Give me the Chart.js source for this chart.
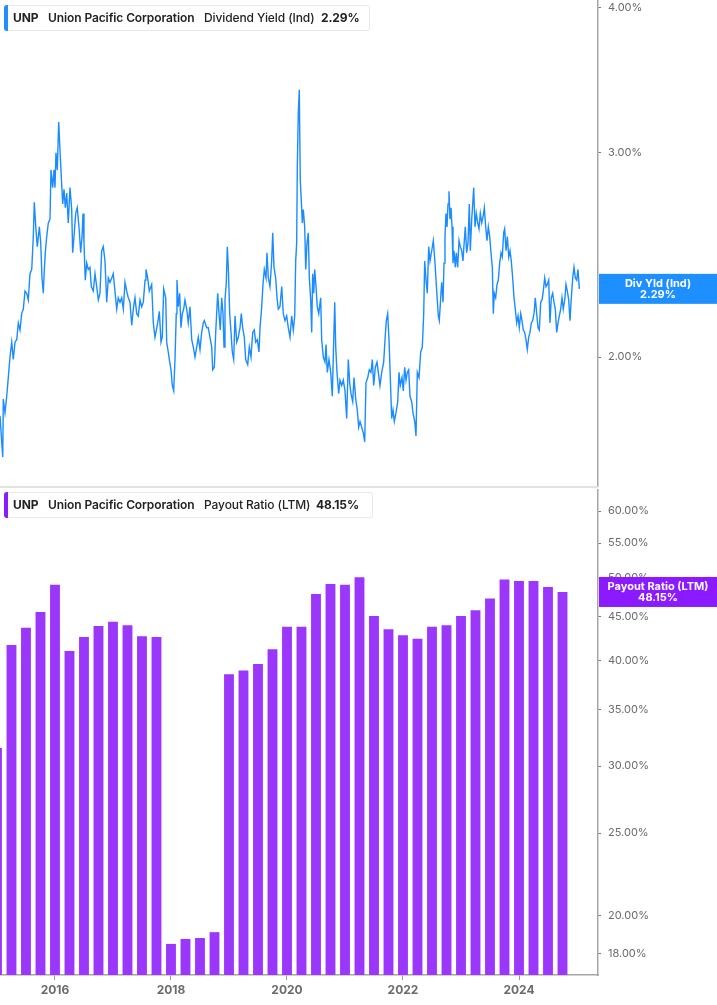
<!DOCTYPE html>
<html>
<head>
<meta charset="utf-8">
<title>UNP - Dividend Yield and Payout Ratio</title>
<script src="https://cdn.jsdelivr.net/npm/chart.js@4.4.1/dist/chart.umd.min.js"></script>
<style>
  html, body { margin: 0; padding: 0; background: #fff; }
  body { width: 717px; height: 1005px; position: relative; overflow: hidden; font-family: Inter, 'Noto Sans', sans-serif; }
  .panel { position: absolute; left: 0; width: 717px; }
  #topPanel { top: 0; height: 487px; }
  #bottomPanel { top: 489px; height: 516px; }
  .divider { position: absolute; left: 0; top: 486px; width: 598px; height: 2px; background: #e2e2e2; }
  .legend { position: absolute; left: 4px; height: 26px; background: #fff; border: 1px solid #e8e8e8; border-radius: 3px; box-sizing: border-box; font-size: 12px; color: #222; white-space: nowrap; letter-spacing: -0.1px; }
  .legend .swatch { position: absolute; left: -1px; top: -1px; bottom: -1px; width: 4px; border-radius: 3px 0 0 3px; }
  .legend span { position: absolute; top: 5px; line-height: 14px; }
  .b { font-weight: 700; }
  .sb { font-weight: 600; }
  .n { font-weight: 500; }
</style>
</head>
<body>
<div class="panel" id="topPanel"><canvas id="yieldChart"></canvas></div>
<div class="divider"></div>
<div class="panel" id="bottomPanel"><canvas id="payoutChart"></canvas></div>

<div class="legend" style="top:5px; width:366px;">
  <div class="swatch" style="background:#1e8fff;"></div>
  <span class="b" style="left:8px;">UNP</span>
  <span class="sb" style="left:43px;">Union Pacific Corporation</span>
  <span class="n" style="left:199px;">Dividend Yield (Ind)</span>
  <span class="b" style="left:316px;">2.29%</span>
</div>
<div class="legend" style="top:492px; width:369px;">
  <div class="swatch" style="background:#8c1aff;"></div>
  <span class="b" style="left:8px;">UNP</span>
  <span class="sb" style="left:43px;">Union Pacific Corporation</span>
  <span class="n" style="left:199px;">Payout Ratio (LTM)</span>
  <span class="b" style="left:311px;">48.15%</span>
</div>

<script>
// Dividend yield (indicated), % - dates as decimal years
const yieldDates = [
  2015.052, 2015.078, 2015.099, 2015.109, 2015.138, 2015.168, 2015.195, 2015.224, 2015.254, 2015.281,
  2015.311, 2015.340, 2015.368, 2015.397, 2015.426, 2015.454, 2015.483, 2015.512, 2015.540, 2015.569,
  2015.599, 2015.626, 2015.643, 2015.673, 2015.695, 2015.730, 2015.754, 2015.776, 2015.799, 2015.816,
  2015.833, 2015.857, 2015.885, 2015.914, 2015.931, 2015.960, 2015.983, 2016.000, 2016.017, 2016.040,
  2016.064, 2016.086, 2016.109, 2016.133, 2016.155, 2016.178, 2016.202, 2016.229, 2016.259, 2016.288,
  2016.305, 2016.328, 2016.357, 2016.384, 2016.419, 2016.443, 2016.466, 2016.483, 2016.500, 2016.522,
  2016.547, 2016.574, 2016.603, 2016.626, 2016.660, 2016.690, 2016.719, 2016.747, 2016.776, 2016.805,
  2016.833, 2016.862, 2016.892, 2016.919, 2016.948, 2016.978, 2017.005, 2017.034, 2017.064, 2017.091,
  2017.121, 2017.150, 2017.178, 2017.207, 2017.236, 2017.264, 2017.293, 2017.323, 2017.350, 2017.379,
  2017.409, 2017.436, 2017.466, 2017.495, 2017.523, 2017.552, 2017.569, 2017.598, 2017.626, 2017.667,
  2017.695, 2017.724, 2017.771, 2017.799, 2017.828, 2017.850, 2017.874, 2017.909, 2017.926, 2017.953,
  2017.978, 2018.000, 2018.023, 2018.047, 2018.069, 2018.091, 2018.103, 2018.126, 2018.150, 2018.172,
  2018.195, 2018.219, 2018.241, 2018.271, 2018.298, 2018.328, 2018.357, 2018.385, 2018.414, 2018.443,
  2018.471, 2018.500, 2018.529, 2018.557, 2018.574, 2018.616, 2018.643, 2018.672, 2018.702, 2018.719,
  2018.747, 2018.771, 2018.805, 2018.828, 2018.850, 2018.874, 2018.897, 2018.914, 2018.931, 2018.954,
  2018.971, 2018.988, 2019.012, 2019.035, 2019.057, 2019.081, 2019.104, 2019.133, 2019.160, 2019.190,
  2019.212, 2019.236, 2019.264, 2019.288, 2019.323, 2019.350, 2019.379, 2019.409, 2019.436, 2019.460,
  2019.488, 2019.517, 2019.535, 2019.564, 2019.586, 2019.609, 2019.638, 2019.655, 2019.678, 2019.707,
  2019.736, 2019.754, 2019.776, 2019.805, 2019.828, 2019.850, 2019.879, 2019.909, 2019.936, 2019.966,
  2019.995, 2020.022, 2020.052, 2020.081, 2020.109, 2020.133, 2020.150, 2020.167, 2020.178, 2020.195,
  2020.212, 2020.229, 2020.247, 2020.264, 2020.281, 2020.305, 2020.323, 2020.345, 2020.367, 2020.385,
  2020.409, 2020.426, 2020.443, 2020.461, 2020.478, 2020.500, 2020.522, 2020.547, 2020.581, 2020.598,
  2020.626, 2020.655, 2020.673, 2020.695, 2020.724, 2020.754, 2020.781, 2020.805, 2020.823, 2020.840,
  2020.862, 2020.891, 2020.914, 2020.943, 2020.971, 2021.000, 2021.029, 2021.057, 2021.081, 2021.103,
  2021.133, 2021.155, 2021.185, 2021.212, 2021.236, 2021.259, 2021.288, 2021.316, 2021.340, 2021.362,
  2021.392, 2021.419, 2021.448, 2021.471, 2021.495, 2021.523, 2021.552, 2021.574, 2021.603, 2021.633,
  2021.667, 2021.690, 2021.712, 2021.736, 2021.759, 2021.781, 2021.805, 2021.828, 2021.850, 2021.879,
  2021.909, 2021.931, 2021.953, 2021.983, 2022.005, 2022.029, 2022.052, 2022.074, 2022.098, 2022.121,
  2022.150, 2022.172, 2022.202, 2022.224, 2022.247, 2022.276, 2022.305, 2022.333, 2022.357, 2022.374,
  2022.397, 2022.419, 2022.443, 2022.466, 2022.495, 2022.523, 2022.552, 2022.581, 2022.609, 2022.626,
  2022.650, 2022.667, 2022.690, 2022.707, 2022.724, 2022.741, 2022.759, 2022.776, 2022.793, 2022.810,
  2022.828, 2022.845, 2022.862, 2022.879, 2022.902, 2022.919, 2022.943, 2022.966, 2022.988, 2023.012,
  2023.034, 2023.057, 2023.074, 2023.098, 2023.121, 2023.143, 2023.160, 2023.185, 2023.202, 2023.219,
  2023.241, 2023.264, 2023.288, 2023.310, 2023.333, 2023.357, 2023.379, 2023.402, 2023.426, 2023.448,
  2023.471, 2023.495, 2023.517, 2023.540, 2023.557, 2023.574, 2023.598, 2023.621, 2023.643, 2023.667,
  2023.690, 2023.712, 2023.736, 2023.753, 2023.776, 2023.799, 2023.823, 2023.845, 2023.867, 2023.891,
  2023.914, 2023.936, 2023.960, 2023.983, 2024.005, 2024.029, 2024.052, 2024.074, 2024.098, 2024.121,
  2024.143, 2024.167, 2024.190, 2024.212, 2024.236, 2024.259, 2024.281, 2024.305, 2024.328, 2024.350,
  2024.374, 2024.397, 2024.419, 2024.443, 2024.466, 2024.488, 2024.512, 2024.534, 2024.557, 2024.581,
  2024.603, 2024.626, 2024.650, 2024.672, 2024.695, 2024.719, 2024.741, 2024.764, 2024.788, 2024.810,
  2024.833, 2024.857, 2024.879, 2024.902, 2024.926, 2024.948, 2024.971, 2024.995, 2025.017, 2025.040
];
const yieldValues = [
  1.78, 1.70, 1.64, 1.84, 1.79, 1.85, 1.92, 2.00, 2.06, 1.99,
  2.06, 2.07, 2.14, 2.11, 2.18, 2.20, 2.28, 2.27, 2.24, 2.36,
  2.38, 2.54, 2.72, 2.57, 2.49, 2.59, 2.51, 2.34, 2.27, 2.38,
  2.46, 2.54, 2.61, 2.63, 2.90, 2.80, 2.90, 2.80, 3.00, 2.90,
  3.19, 3.02, 2.86, 2.71, 2.79, 2.69, 2.77, 2.61, 2.80, 2.68,
  2.46, 2.54, 2.66, 2.69, 2.57, 2.46, 2.54, 2.66, 2.51, 2.33,
  2.41, 2.38, 2.39, 2.30, 2.28, 2.36, 2.30, 2.24, 2.27, 2.47,
  2.49, 2.42, 2.23, 2.34, 2.32, 2.34, 2.36, 2.28, 2.20, 2.25,
  2.23, 2.25, 2.20, 2.32, 2.28, 2.25, 2.23, 2.13, 2.20, 2.25,
  2.18, 2.17, 2.24, 2.21, 2.23, 2.33, 2.38, 2.34, 2.28, 2.31,
  2.14, 2.08, 2.14, 2.19, 2.06, 2.08, 2.29, 2.25, 2.06, 2.02,
  1.98, 1.95, 1.89, 1.87, 1.99, 2.18, 2.33, 2.21, 2.27, 2.12,
  2.18, 2.20, 2.24, 2.20, 2.14, 2.21, 2.07, 2.04, 2.00, 2.04,
  2.08, 2.03, 2.10, 2.14, 2.15, 2.12, 2.12, 2.08, 2.04, 1.95,
  1.96, 2.10, 2.27, 2.18, 2.11, 2.25, 2.18, 2.04, 2.24, 2.32,
  2.49, 2.39, 2.18, 2.10, 2.02, 1.99, 2.17, 2.06, 2.08, 2.12,
  2.18, 2.12, 2.08, 1.99, 1.97, 2.04, 2.00, 2.10, 2.11, 2.06,
  2.07, 2.02, 2.12, 2.21, 2.31, 2.38, 2.34, 2.46, 2.34, 2.30,
  2.42, 2.56, 2.39, 2.34, 2.25, 2.20, 2.21, 2.30, 2.18, 2.15,
  2.17, 2.12, 2.08, 2.17, 2.11, 2.17, 2.42, 2.51, 2.92, 3.25,
  3.40, 2.84, 2.73, 2.61, 2.68, 2.59, 2.38, 2.51, 2.56, 2.34,
  2.24, 2.10, 2.36, 2.27, 2.38, 2.30, 2.21, 2.18, 2.25, 2.07,
  2.00, 1.98, 2.05, 1.94, 1.99, 1.94, 1.85, 2.06, 2.23, 2.04,
  1.94, 1.86, 1.91, 1.89, 1.91, 1.87, 1.77, 1.99, 1.90, 1.86,
  1.83, 1.92, 1.84, 1.80, 1.74, 1.76, 1.74, 1.72, 1.69, 1.90,
  1.92, 1.95, 1.94, 1.99, 1.89, 1.96, 1.98, 1.94, 1.89, 1.94,
  1.98, 2.07, 2.15, 2.18, 2.07, 1.92, 1.77, 1.80, 1.76, 1.79,
  1.83, 1.94, 1.89, 1.92, 1.87, 1.96, 1.91, 1.94, 1.95, 1.85,
  1.83, 1.79, 1.76, 1.71, 1.94, 1.92, 2.02, 2.04, 2.18, 2.42,
  2.33, 2.27, 2.49, 2.42, 2.47, 2.52, 2.41, 2.28, 2.17, 2.15,
  2.25, 2.32, 2.23, 2.41, 2.54, 2.66, 2.59, 2.71, 2.78, 2.63,
  2.69, 2.59, 2.41, 2.47, 2.39, 2.46, 2.39, 2.52, 2.49, 2.47,
  2.42, 2.52, 2.59, 2.46, 2.51, 2.71, 2.47, 2.63, 2.71, 2.80,
  2.59, 2.66, 2.61, 2.58, 2.66, 2.61, 2.64, 2.69, 2.59, 2.52,
  2.59, 2.54, 2.46, 2.39, 2.18, 2.27, 2.25, 2.31, 2.33, 2.41,
  2.46, 2.44, 2.56, 2.58, 2.47, 2.54, 2.44, 2.47, 2.42, 2.34,
  2.25, 2.20, 2.14, 2.17, 2.12, 2.18, 2.15, 2.11, 2.10, 2.07,
  2.03, 2.08, 2.10, 2.14, 2.15, 2.18, 2.25, 2.18, 2.12, 2.11,
  2.23, 2.24, 2.28, 2.34, 2.30, 2.31, 2.33, 2.14, 2.25, 2.27,
  2.23, 2.20, 2.10, 2.14, 2.17, 2.20, 2.25, 2.20, 2.24, 2.31,
  2.28, 2.24, 2.15, 2.25, 2.34, 2.39, 2.34, 2.33, 2.38, 2.29
];

// Payout ratio (LTM), %, one value per fiscal quarter
const payoutQuarters = [
  '2014 Q4',
  '2015 Q1', '2015 Q2', '2015 Q3', '2015 Q4',
  '2016 Q1', '2016 Q2', '2016 Q3', '2016 Q4',
  '2017 Q1', '2017 Q2', '2017 Q3', '2017 Q4',
  '2018 Q1', '2018 Q2', '2018 Q3', '2018 Q4',
  '2019 Q1', '2019 Q2', '2019 Q3', '2019 Q4',
  '2020 Q1', '2020 Q2', '2020 Q3', '2020 Q4',
  '2021 Q1', '2021 Q2', '2021 Q3', '2021 Q4',
  '2022 Q1', '2022 Q2', '2022 Q3', '2022 Q4',
  '2023 Q1', '2023 Q2', '2023 Q3', '2023 Q4',
  '2024 Q1', '2024 Q2', '2024 Q3'
];
const payoutValues = [
  31.5,
  41.7, 43.7, 45.6, 49.1,
  41.0, 42.6, 43.9, 44.4,
  44.0, 42.7, 42.6, 18.5,
  18.75, 18.8, 19.1, 38.5,
  38.9, 39.6, 41.2, 43.8,
  43.8, 47.9, 49.2, 49.1,
  50.1, 45.1, 43.5, 42.8,
  42.4, 43.8, 44.0, 45.1,
  45.8, 47.3, 49.8, 49.6,
  49.6, 48.8, 48.15
];

const yearTicks = [2016, 2018, 2020, 2022, 2024];
const yieldTicks = [2, 3, 4];
const payoutTicks = [18, 20, 25, 30, 35, 40, 45, 50, 55, 60];

const X_MIN = 2015.052;
const X_MAX = 2025.362;

Chart.defaults.font.family = "Inter, 'Noto Sans', sans-serif";
Chart.defaults.animation = false;

// quarter end as decimal year, e.g. '2015 Q1' -> 2015.25
function quarterEnd(label) {
  const [y, q] = label.split(' Q');
  return parseInt(y) + parseInt(q) / 4;
}

function xAxis(show) {
  return {
    type: 'linear',
    min: X_MIN,
    max: X_MAX,
    offset: false,
    display: show,
    grid: { drawOnChartArea: false, offset: false, tickLength: 5, color: '#999' },
    border: { color: '#a6a6a6', width: 1.5 },
    afterBuildTicks: axis => { axis.ticks = yearTicks.map(v => ({ value: v })); },
    afterFit: axis => {
      axis.height = show ? 30 : 0;
      axis.paddingLeft = 0;
      axis.paddingRight = 0;
    },
    ticks: {
      color: '#6b6b6b',
      font: { size: 12, weight: 'bold' },
      padding: 3,
      maxRotation: 0,
      autoSkip: false,
      callback: v => String(v)
    }
  };
}

function yAxis(min, max, tickValues) {
  return {
    type: 'logarithmic',
    position: 'right',
    min: min,
    max: max,
    afterBuildTicks: axis => { axis.ticks = tickValues.map(v => ({ value: v })); },
    afterFit: axis => { axis.width = 119; axis.paddingTop = 0; axis.paddingBottom = 0; },
    grid: { drawOnChartArea: false, tickLength: 3, color: '#777' },
    border: { color: '#a6a6a6', width: 1.5 },
    ticks: {
      color: '#6b6b6b',
      font: { size: 11 },
      padding: 7,
      autoSkip: false,
      callback: v => Number(v).toFixed(2) + '%'
    }
  };
}

// last value tag on the right axis
const lastValueTag = {
  id: 'lastValueTag',
  afterDraw(chart, args, opts) {
    const scale = chart.scales.y;
    const data = chart.data.datasets[0].data;
    const last = data[data.length - 1].y;
    const py = scale.getPixelForValue(last);
    const left = scale.left + 1;
    const w = chart.width - left;
    const ctx = chart.ctx;
    ctx.save();
    ctx.fillStyle = opts.color;
    ctx.fillRect(left, py - 15, w, 30);
    ctx.fillStyle = '#fff';
    ctx.font = "bold 11px Inter, 'Noto Sans', sans-serif";
    ctx.textAlign = 'center';
    ctx.textBaseline = 'middle';
    ctx.fillText(opts.label, left + w / 2, py - 5.5);
    ctx.fillText(last.toFixed(2) + '%', left + w / 2, py + 6);
    ctx.restore();
  }
};

new Chart(document.getElementById('yieldChart'), {
  type: 'line',
  data: {
    datasets: [{
      label: 'Dividend Yield (Ind)',
      data: yieldDates.map((d, i) => ({ x: d, y: yieldValues[i] })),
      borderColor: '#1a8cff',
      borderWidth: 1.4,
      pointRadius: 0,
      tension: 0
    }]
  },
  options: {
    responsive: true,
    maintainAspectRatio: false,
    layout: { padding: 0 },
    scales: {
      x: xAxis(false),
      y: yAxis(1.545, 4.064, yieldTicks)
    },
    plugins: {
      legend: { display: false },
      tooltip: { enabled: false },
      lastValueTag: { color: '#1e8fff', label: 'Div Yld (Ind)' }
    }
  },
  plugins: [lastValueTag]
});

new Chart(document.getElementById('payoutChart'), {
  type: 'bar',
  data: {
    datasets: [{
      label: 'Payout Ratio (LTM)',
      data: payoutQuarters.map((q, i) => ({ x: quarterEnd(q), y: payoutValues[i] })),
      backgroundColor: '#9b37fb',
      borderWidth: 0,
      barPercentage: 0.68,
      categoryPercentage: 1.0
    }]
  },
  options: {
    responsive: true,
    maintainAspectRatio: false,
    layout: { padding: 0 },
    scales: {
      x: xAxis(true),
      y: yAxis(17.0, 63.7, payoutTicks)
    },
    plugins: {
      legend: { display: false },
      tooltip: { enabled: false },
      lastValueTag: { color: '#8c1aff', label: 'Payout Ratio (LTM)' }
    }
  },
  plugins: [lastValueTag]
});
</script>
</body>
</html>
